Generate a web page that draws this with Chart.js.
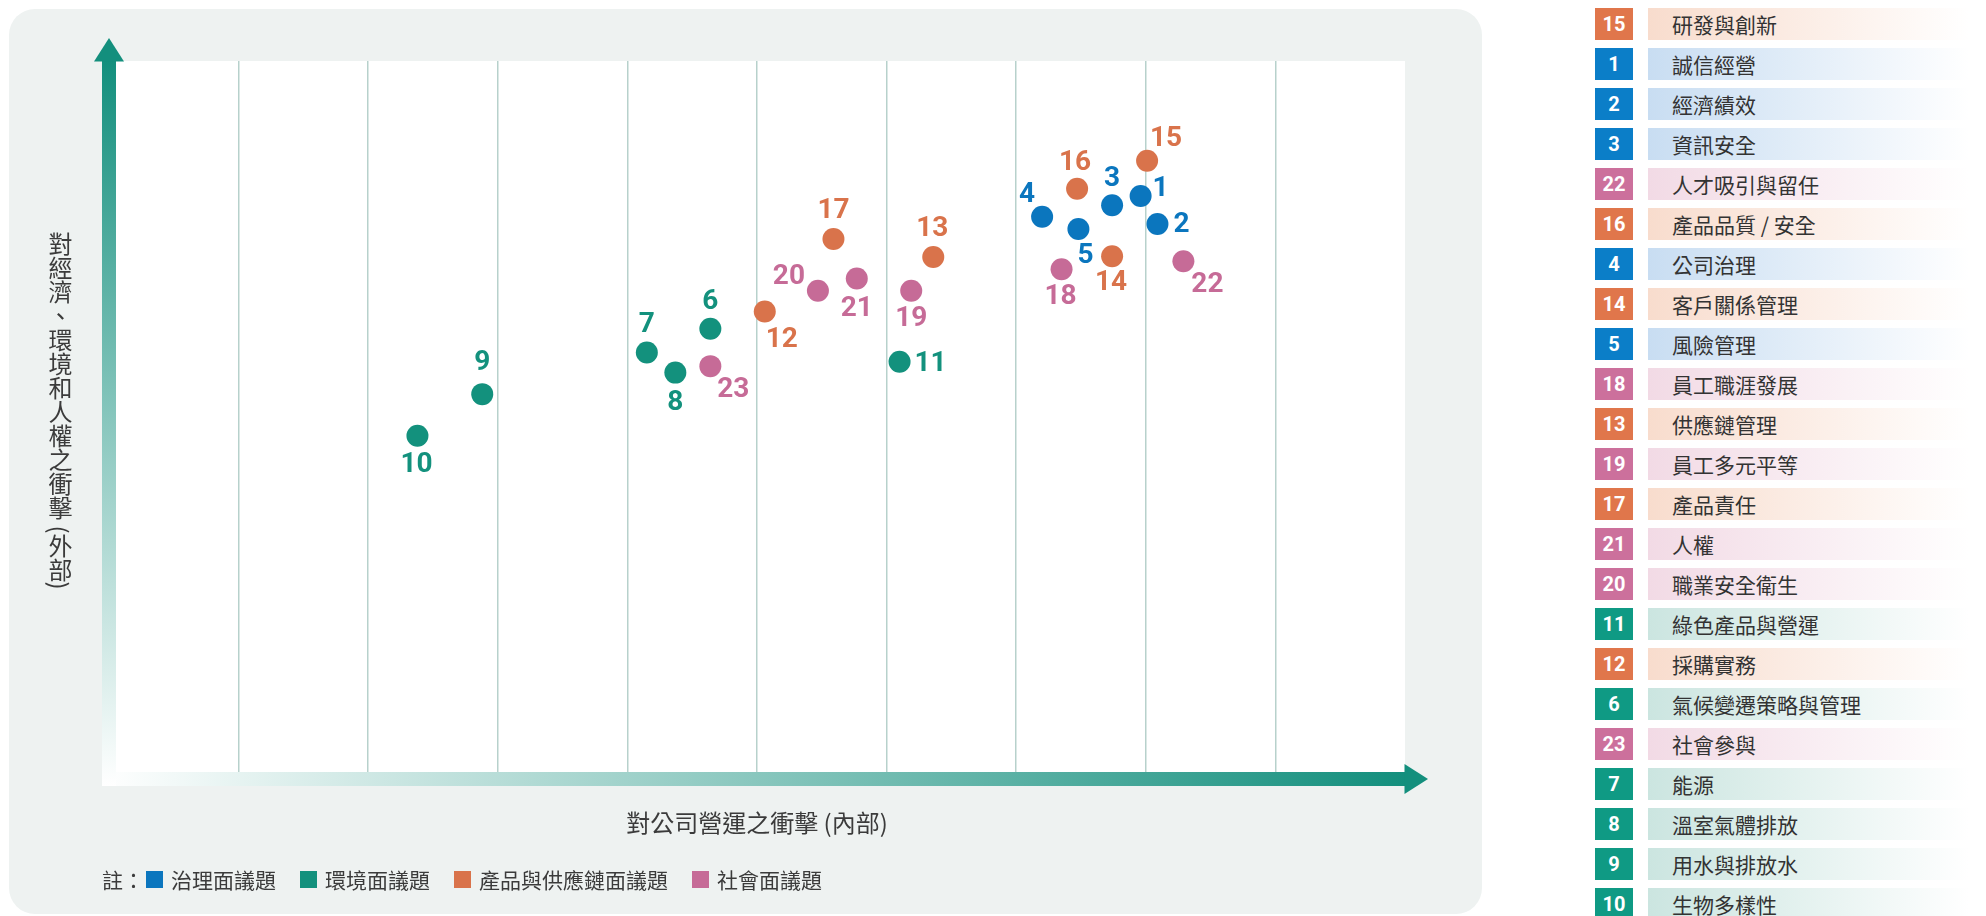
<!DOCTYPE html>
<html>
<head>
<meta charset="utf-8">
<script src="https://cdn.jsdelivr.net/npm/chart.js@4.4.1/dist/chart.umd.min.js"></script>
<style>
  html, body { margin:0; padding:0; background:#ffffff; width:1986px; height:916px; overflow:hidden;
    font-family:"Noto Sans CJK TC","Noto Sans",sans-serif; }
  #panel { position:absolute; left:9px; top:9px; width:1473px; height:905px; background:#eef2f1; border-radius:26px; }
  #c { position:absolute; left:0; top:0; }
  #ytitle { position:absolute; left:48px; top:232px; writing-mode:vertical-rl; font-size:24px; line-height:24px; color:#3b3b3b; white-space:nowrap; }
  #xtitle { position:absolute; left:507px; width:500px; top:805px; text-align:center; font-size:24px; line-height:34px; color:#3b3b3b; white-space:nowrap; }
  #legend { position:absolute; left:102px; top:864px; height:30px; display:flex; align-items:center; font-size:21px; line-height:30px; color:#3b3b3b; white-space:nowrap; }
  #legend .sq { display:inline-block; width:17px; height:17px; margin-right:8px; }
  #legend .item { display:flex; align-items:center; margin-right:24px; }
  #legend .note { margin-right:2px; }
  .row { position:absolute; left:1595px; height:32px; width:391px; }
  .row .num { position:absolute; left:0; top:0; width:38px; height:32px; color:#fff; font-family:Roboto,"Noto Sans",sans-serif; font-weight:700; font-size:20px; line-height:32px; text-align:center; }
  .row .bar { position:absolute; left:53px; top:0; width:338px; height:32px; }
  .row .name { position:absolute; left:77px; top:0; height:32px; line-height:32px; font-size:21px; color:#333; white-space:nowrap; }
</style>
</head>
<body>
<div id="panel"></div>
<canvas id="c" width="1986" height="916"></canvas>
<div id="ytitle">對經濟、環境和人權之衝擊 (外部)</div>
<div id="xtitle">對公司營運之衝擊 (內部)</div>
<div id="legend"></div>
<div id="list"></div>
<script>
// ---------------- DATA ----------------
const categories = ['治理面議題', '環境面議題', '產品與供應鏈面議題', '社會面議題'];
const topicIds = [1,2,3,4,5,6,7,8,9,10,11,12,13,14,15,16,17,18,19,20,21,22,23];
const topicNames = ['誠信經營','經濟績效','資訊安全','公司治理','風險管理',
  '氣候變遷策略與管理','能源','溫室氣體排放','用水與排放水','生物多樣性','綠色產品與營運',
  '採購實務','供應鏈管理','客戶關係管理','研發與創新','產品品質 / 安全','產品責任',
  '員工職涯發展','員工多元平等','職業安全衛生','人權','人才吸引與留任','社會參與'];
const topicGroup = [0,0,0,0,0, 1,1,1,1,1,1, 2,2,2,2,2,2, 3,3,3,3,3,3];
// x: 對公司營運之衝擊 (內部), y: 對經濟、環境和人權之衝擊 (外部)
const internalImpact = [7.96,8.09,7.74,7.20,7.48, 4.64,4.15,4.37,2.88,2.38,6.10, 5.06,6.36,7.74,8.01,7.47,5.59, 7.35,6.19,5.47,5.77,8.29,4.64];
const externalImpact = [8.12,7.73,7.99,7.83,7.66, 6.27,5.94,5.66,5.36,4.78,5.81, 6.51,7.27,7.28,8.61,8.22,7.52, 7.10,6.80,6.80,6.97,7.21,5.75];
const rankOrder = [15,1,2,3,22,16,4,14,5,18,13,19,17,21,20,11,12,6,23,7,8,9,10];
const xTickValues = [0,1,2,3,4,5,6,7,8,9,10];

// ---------------- STYLE ----------------
const dotColors  = ['#0b76be', '#13917d', '#d9734b', '#c66b97'];
const boxColors  = ['#0b7ec8', '#0f9a84', '#e0764b', '#cc709c'];
const barColors  = ['#c8ddf2', '#cbe5e0', '#f8dccd', '#f2dae5'];
const labelOffsets = {
  1:[20,-8], 2:[24,0], 3:[0,-27], 4:[-15,-23], 5:[7,26], 6:[0,-28], 7:[0,-29], 8:[0,29],
  9:[0,-32], 10:[-1,28], 11:[31,1], 12:[17,27], 13:[-1,-29], 14:[-1,26], 15:[19,-23],
  16:[-2,-27], 17:[0,-29], 18:[-1,27], 19:[0,27], 20:[-29,-15], 21:[0,29], 22:[24,23], 23:[23,23]
};
const AXIS_COLOR = '#138f7d';

// ---------------- LEGEND & LIST (HTML) ----------------
const legend = document.getElementById('legend');
legend.innerHTML = '<span class="note">註：</span>' + categories.map((c, g) =>
  `<span class="item"><span class="sq" style="background:${dotColors[g]}"></span>${c}</span>`).join('');

const list = document.getElementById('list');
rankOrder.forEach((id, r) => {
  const i = topicIds.indexOf(id);
  const g = topicGroup[i];
  const row = document.createElement('div');
  row.className = 'row';
  row.style.top = (8 + r * 40) + 'px';
  row.innerHTML = `<div class="num" style="background:${boxColors[g]}">${id}</div>
    <div class="bar" style="background:linear-gradient(90deg, ${barColors[g]} 0%, #ffffff 95%)"></div>
    <div class="name">${topicNames[i]}</div>`;
  list.appendChild(row);
});

// ---------------- CHART ----------------
const datasets = categories.map((name, g) => ({
  label: name,
  data: topicIds.map((id, i) => ({ x: internalImpact[i], y: externalImpact[i], id: id, g: topicGroup[i] }))
                .filter(p => p.g === g),
  backgroundColor: dotColors[g],
  borderWidth: 0,
  pointRadius: 11,
  pointHoverRadius: 11
}));

const bgPlugin = {
  id: 'plotBg',
  beforeDraw(chart) {
    const { ctx, chartArea: a } = chart;
    ctx.save();
    ctx.fillStyle = '#ffffff';
    ctx.fillRect(a.left, a.top, a.right - a.left, a.bottom - a.top);
    ctx.restore();
  }
};

const arrowPlugin = {
  id: 'arrows',
  afterDraw(chart) {
    const { ctx, chartArea: a } = chart;
    const xs = chart.scales.x, ys = chart.scales.y;
    const x0 = xs.getPixelForValue(xs.min);
    const y0 = ys.getPixelForValue(ys.min);
    const xEnd = a.right, yEnd = a.top;
    const hw = 7, head = 15, headLen = 23;
    ctx.save();
    let gx = ctx.createLinearGradient(x0 - hw, 0, xEnd, 0);
    gx.addColorStop(0, '#ffffff');
    gx.addColorStop(1, AXIS_COLOR);
    ctx.fillStyle = gx;
    ctx.fillRect(x0 - hw, y0 - hw, xEnd - (x0 - hw), hw * 2);
    ctx.fillStyle = AXIS_COLOR;
    ctx.beginPath();
    ctx.moveTo(xEnd - 0.5, y0 - head);
    ctx.lineTo(xEnd + headLen, y0);
    ctx.lineTo(xEnd - 0.5, y0 + head);
    ctx.closePath();
    ctx.fill();
    let gy = ctx.createLinearGradient(0, yEnd, 0, y0 + hw);
    gy.addColorStop(0, AXIS_COLOR);
    gy.addColorStop(1, '#ffffff');
    ctx.fillStyle = gy;
    ctx.fillRect(x0 - hw, yEnd, hw * 2, (y0 + hw) - yEnd);
    ctx.fillStyle = AXIS_COLOR;
    ctx.beginPath();
    ctx.moveTo(x0 - head, yEnd + 0.5);
    ctx.lineTo(x0, yEnd - headLen);
    ctx.lineTo(x0 + head, yEnd + 0.5);
    ctx.closePath();
    ctx.fill();
    ctx.restore();
  }
};

const labelPlugin = {
  id: 'pointLabels',
  afterDatasetsDraw(chart) {
    const ctx = chart.ctx;
    ctx.save();
    ctx.font = 'bold 28px Roboto, "Noto Sans", sans-serif';
    ctx.textAlign = 'center';
    ctx.textBaseline = 'middle';
    chart.data.datasets.forEach((ds, di) => {
      const meta = chart.getDatasetMeta(di);
      meta.data.forEach((el, j) => {
        const p = ds.data[j];
        const off = labelOffsets[p.id] || [0, -28];
        ctx.fillStyle = dotColors[di];
        ctx.fillText(String(p.id), el.x + off[0], el.y + off[1] + 1);
      });
    });
    ctx.restore();
  }
};

new Chart(document.getElementById('c'), {
  type: 'scatter',
  data: { datasets },
  options: {
    responsive: false,
    animation: false,
    events: [],
    devicePixelRatio: 1,
    layout: { padding: { left: 109, top: 61, right: 581, bottom: 137 } },
    plugins: { legend: { display: false }, tooltip: { enabled: false }, title: { display: false } },
    scales: {
      x: {
        type: 'linear', min: 0, max: 10,
        afterBuildTicks: s => { s.ticks = xTickValues.map(v => ({ value: v })); },
        afterFit: s => { s.height = 0; s.paddingLeft = 0; s.paddingRight = 0; },
        ticks: { display: false },
        border: { display: false },
        grid: {
          drawTicks: false,
          lineWidth: 1.5,
          color: c => (c.tick && (c.tick.value === 0 || c.tick.value === 10)) ? 'rgba(0,0,0,0)' : '#b7d1cc'
        }
      },
      y: {
        type: 'linear', min: 0, max: 10,
        afterFit: s => { s.width = 0; },
        ticks: { display: false },
        border: { display: false },
        grid: { display: false }
      }
    }
  },
  plugins: [bgPlugin, labelPlugin, arrowPlugin]
});
</script>
</body>
</html>
